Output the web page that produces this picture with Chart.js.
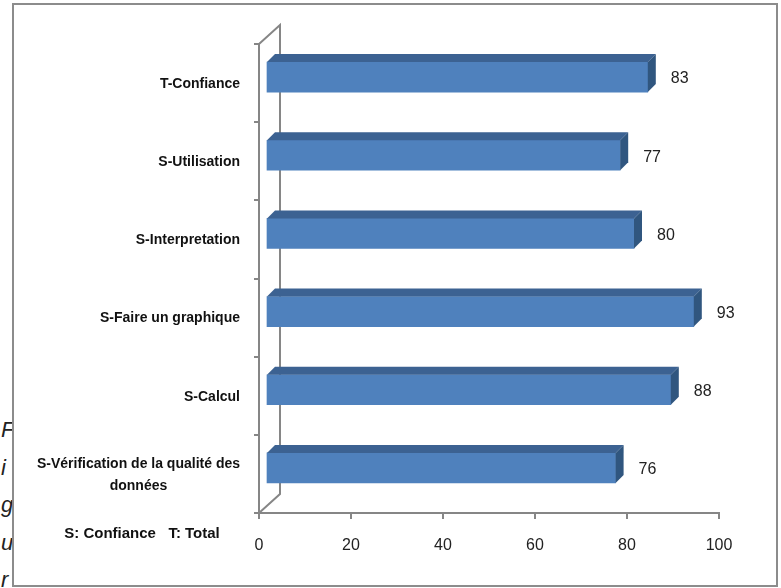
<!DOCTYPE html>
<html>
<head>
<meta charset="utf-8">
<script src="https://cdn.jsdelivr.net/npm/chart.js@4.4.1/dist/chart.umd.min.js"></script>
<style>
  body { margin: 0; background: #fff; width: 781px; height: 588px; overflow: hidden; position: relative; }
  #side { position: absolute; left: 1px; top: 411px; font: italic 22px "Liberation Sans", Arial, sans-serif; line-height: 37.5px; color: #222; }
  #box { position: absolute; left: 12px; top: 3px; width: 762px; height: 580px; border: 2px solid #8c8c8c; background: #fff; }
  canvas { display: block; }
</style>
</head>
<body>
<div id="side">F<br>i<br>g<br>u<br>r</div>
<div id="box"><canvas id="chart" width="762" height="580"></canvas></div>
<script>
var categories = [
  'T-Confiance',
  'S-Utilisation',
  'S-Interpretation',
  'S-Faire un graphique',
  'S-Calcul',
  ['S-Vérification de la qualité des', 'données']
];
var values = [83, 77, 80, 93, 88, 76];
var xTicks = [0, 20, 40, 60, 80, 100];
var note = 'S: Confiance   T: Total';

var FONT = '"Liberation Sans", Arial, sans-serif';
var AXIS = '#868686';
var FRONT = '#4f81bd', TOP = '#3c6292', SIDE = '#30567f';
var shift = {x: 7, y: -6}, depth = 8, wall = {x: 21, y: -19};

var bar3d = {
  id: 'bar3d',
  beforeDatasetsDraw: function (chart) {
    var ctx = chart.ctx, a = chart.chartArea;
    // left wall of the 3d frame
    ctx.save();
    ctx.strokeStyle = AXIS;
    ctx.lineWidth = 2;
    ctx.beginPath();
    ctx.moveTo(a.left, a.top);
    ctx.lineTo(a.left + wall.x, a.top + wall.y);
    ctx.lineTo(a.left + wall.x, a.bottom + wall.y);
    ctx.lineTo(a.left, a.bottom);
    ctx.stroke();
    ctx.restore();
    ctx.save();
    ctx.translate(shift.x, shift.y);
  },
  afterDatasetsDraw: function (chart) {
    var ctx = chart.ctx;
    ctx.restore();
    var meta = chart.getDatasetMeta(0);
    ctx.save();
    meta.data.forEach(function (bar, i) {
      var p = bar.getProps(['x', 'y', 'base', 'height'], true);
      var x0 = p.base + shift.x, x1 = p.x + shift.x;
      var t = p.y - p.height / 2 + shift.y, b = p.y + p.height / 2 + shift.y;
      ctx.fillStyle = TOP;
      ctx.beginPath();
      ctx.moveTo(x0, t);
      ctx.lineTo(x0 + depth, t - depth);
      ctx.lineTo(x1 + depth, t - depth);
      ctx.lineTo(x1, t);
      ctx.closePath();
      ctx.fill();
      ctx.fillStyle = SIDE;
      ctx.beginPath();
      ctx.moveTo(x1, t);
      ctx.lineTo(x1 + depth, t - depth);
      ctx.lineTo(x1 + depth, b - depth);
      ctx.lineTo(x1, b);
      ctx.closePath();
      ctx.fill();
      ctx.fillStyle = '#222';
      ctx.font = '16px ' + FONT;
      ctx.textAlign = 'left';
      ctx.textBaseline = 'middle';
      ctx.fillText(values[i], x1 + depth + 15, (t + b) / 2 + 2);
    });
    ctx.restore();
  },
  afterDraw: function (chart) {
    var ctx = chart.ctx, yScale = chart.scales.y;
    ctx.save();
    ctx.fillStyle = '#111';
    ctx.font = 'bold 14px ' + FONT;
    ctx.textAlign = 'center';
    ctx.textBaseline = 'middle';
    var right = 226, lh = 22;
    categories.forEach(function (c, i) {
      var lines = Array.isArray(c) ? c : [c];
      var w = Math.max.apply(null, lines.map(function (l) { return ctx.measureText(l).width; }));
      var cy = yScale.getPixelForTick(i) + 1;
      lines.forEach(function (l, k) {
        ctx.fillText(l, right - w / 2, cy + (k - (lines.length - 1) / 2) * lh);
      });
    });
    ctx.font = 'bold 15px ' + FONT;
    ctx.fillText(note, 128, 529);
    ctx.restore();
  }
};

new Chart(document.getElementById('chart'), {
  type: 'bar',
  data: {
    labels: categories,
    datasets: [{
      data: values,
      backgroundColor: FRONT,
      borderWidth: 0,
      barThickness: 30
    }]
  },
  options: {
    indexAxis: 'y',
    responsive: false,
    animation: false,
    devicePixelRatio: 1,
    layout: {padding: {top: 39, right: 57, left: 0, bottom: 0}},
    plugins: {legend: {display: false}, tooltip: {enabled: false}},
    scales: {
      y: {
        afterFit: function (s) { s.width = 245; },
        grid: {drawOnChartArea: false, tickLength: 5, color: AXIS, lineWidth: 2, offset: true},
        border: {color: AXIS, width: 2},
        ticks: {display: false}
      },
      x: {
        min: 0,
        max: 100,
        afterBuildTicks: function (s) { s.ticks = xTicks.map(function (v) { return {value: v}; }); },
        afterFit: function (s) { s.height = 72; },
        grid: {drawOnChartArea: false, tickLength: 6, color: AXIS, lineWidth: 2},
        border: {color: AXIS, width: 2},
        ticks: {color: '#222', font: {family: FONT, size: 16}, padding: 17, maxRotation: 0}
      }
    }
  },
  plugins: [bar3d]
});
</script>
</body>
</html>
